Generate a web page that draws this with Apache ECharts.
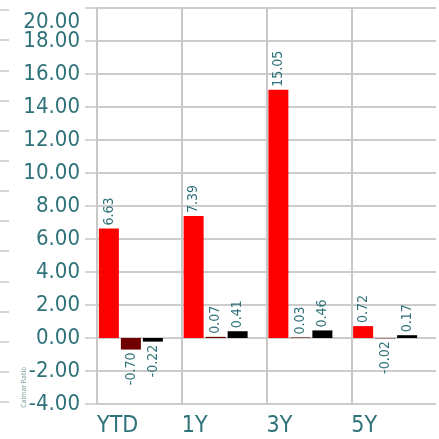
<!DOCTYPE html>
<html><head><meta charset="utf-8">
<script src="https://cdn.jsdelivr.net/npm/echarts@6/dist/echarts.min.js"></script>
<style>html,body{margin:0;padding:0;background:#fff}#c{width:439px;height:439px}</style>
</head><body><div id="c"></div>
<script>
const categories = ['YTD', '1Y', '3Y', '5Y'];
const seriesRed = [6.63, 7.39, 15.05, 0.72];
const seriesDark = [-0.70, 0.07, 0.03, -0.02];
const seriesBlack = [-0.22, 0.41, 0.46, 0.17];
const yMin = -4, yMax = 20, yStep = 2;
const axisName = 'Calmar Ratio';

const FONT = '"Liberation Sans Narrow", "DejaVu Sans Condensed", sans-serif';
const TEAL = '#2f7279';
const GRID = '#c8c8c8';

function mk(arr) {
  return arr.map(v => v < 0 ? { value: v, label: { align: 'right' } } : v);
}
const barLabel = {
  show: true, position: 'outside', rotate: 90, align: 'left', verticalAlign: 'middle',
  distance: 3, color: TEAL, fontFamily: FONT, fontSize: 14,
  formatter: p => Number(p.value).toFixed(2)
};
function bar(name, data, color) {
  return {
    name, type: 'bar', xAxisIndex: 0, yAxisIndex: 0, data: mk(data),
    barWidth: 20, barGap: '10%', itemStyle: { color }, label: barLabel, silent: true
  };
}
const yTickLine = { show: true, length: 12, lineStyle: { color: GRID, width: 1.5 } };
const ySplit = { show: true, showMinLine: true, showMaxLine: true, lineStyle: { color: GRID, width: 1.5 } };

const chart = echarts.init(document.getElementById('c'), null, { renderer: 'canvas' });
chart.setOption({
  animation: false,
  grid: [
    { left: 97, top: 8, width: 340, height: 396 },
    { left: 9, top: 10, width: 1, height: 392 }
  ],
  xAxis: [
    { type: 'category', gridIndex: 0, data: categories, show: false },
    {
      type: 'category', gridIndex: 0, position: 'bottom', boundaryGap: false,
      data: categories.concat(['']),
      axisLine: { show: false },
      axisTick: { show: true, length: 35, interval: i => i < categories.length, lineStyle: { color: GRID, width: 2 } },
      axisLabel: { show: true, interval: 0, align: 'left', margin: 11, color: TEAL, fontFamily: FONT, fontSize: 23 },
      splitLine: { show: true, interval: i => i < categories.length, lineStyle: { color: GRID, width: 2 } }
    },
    { type: 'value', gridIndex: 1, show: false }
  ],
  yAxis: [
    {
      type: 'value', gridIndex: 0, min: yMin, max: yMax, interval: yStep,
      axisLine: { show: false },
      axisTick: yTickLine,
      splitLine: ySplit,
      axisLabel: {
        margin: 17, color: TEAL, fontFamily: FONT, fontSize: 22,
        showMinLabel: true, showMaxLabel: false,
        formatter: v => v.toFixed(2)
      }
    },
    {
      type: 'value', gridIndex: 1, min: 0, max: 13, interval: 1,
      axisLine: { show: false }, axisLabel: { show: false }, splitLine: { show: false },
      axisTick: { show: true, length: 9, lineStyle: { color: GRID, width: 1.5 } }
    },
    {
      type: 'value', gridIndex: 0, position: 'left', offset: 0, min: yMin, max: yMax, interval: yStep,
      axisLine: { show: false },
      axisTick: yTickLine,
      splitLine: ySplit,
      axisLabel: {
        margin: 17, color: TEAL, fontFamily: FONT, fontSize: 22,
        showMinLabel: false, showMaxLabel: true,
        formatter: v => v === yMax ? '{t|' + v.toFixed(2) + '}' : '',
        rich: { t: { color: TEAL, fontFamily: FONT, fontSize: 22, padding: [28, 0, 0, 0] } }
      }
    }
  ],
  graphic: [{
    type: 'text', left: 21, top: 367, rotation: Math.PI / 2,
    style: { text: axisName, fill: '#7fa0a3', font: '7px ' + FONT }
  }],
  series: [
    bar('A', seriesRed, '#ff0000'),
    bar('B', seriesDark, '#700000'),
    bar('C', seriesBlack, '#000000'),
    { name: 'pad', type: 'bar', xAxisIndex: 0, yAxisIndex: 0, data: categories.map(() => '-'), barWidth: 15, barGap: '10%', silent: true }
  ]
});
</script></body></html>
